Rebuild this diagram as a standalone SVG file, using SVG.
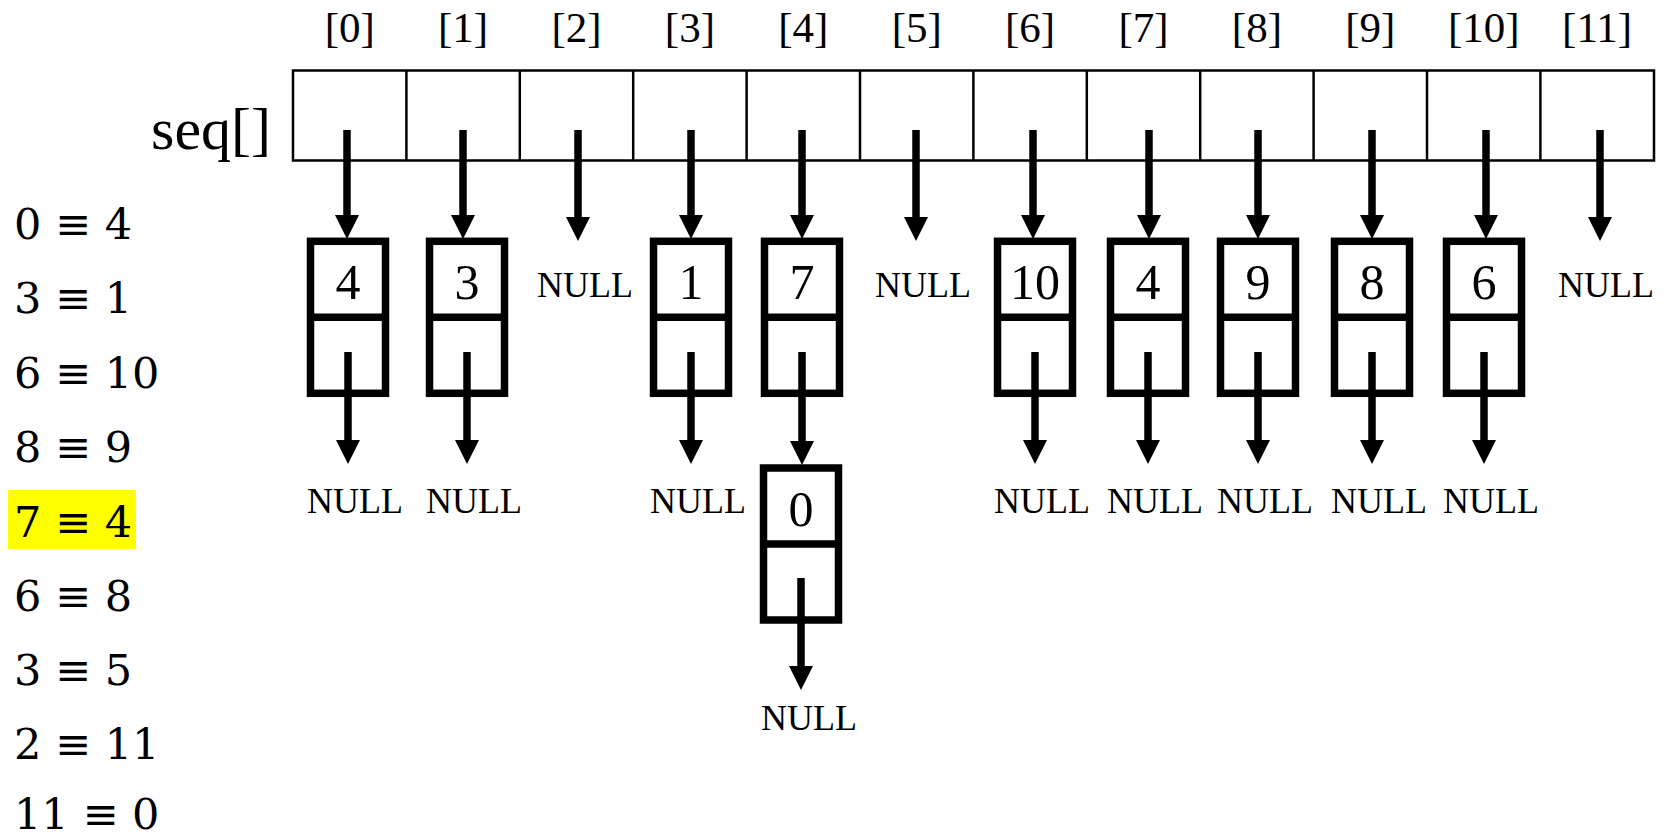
<svg xmlns="http://www.w3.org/2000/svg" width="1669" height="838" viewBox="0 0 1669 838">
<style>
.idx{font-family:"Liberation Serif","Times New Roman",serif;font-size:43px;text-anchor:middle;fill:#000}
.val{font-family:"Liberation Serif","Times New Roman",serif;font-size:50px;text-anchor:middle;fill:#000}
.null{font-family:"Liberation Serif","Times New Roman",serif;font-size:36px;text-anchor:middle;fill:#000}
.eq{font-family:"DejaVu Serif",serif;font-size:43px;fill:#000}
.cell{fill:#fff;stroke:#000;stroke-width:2.5}
.box{fill:#fff;stroke:#000;stroke-width:7.5}
.arr{stroke:#000;stroke-width:7.5;fill:none;marker-end:url(#ah)}
</style>
<defs>
<marker id="ah" markerUnits="userSpaceOnUse" markerWidth="24" markerHeight="24" refX="2" refY="12" orient="auto">
<path d="M0,0 L24,12 L0,24 z" fill="#000"/>
</marker>
<g id="nodebox">
<rect class="box" x="-37.5" y="0" width="75" height="152"/>
<line x1="-37.5" y1="76" x2="37.5" y2="76" stroke="#000" stroke-width="7.5"/>
</g>
</defs>
<rect width="1669" height="838" fill="#fff"/>

<g id="equations">
<rect x="8" y="490" width="128" height="59" fill="#ffff00"/>
<text class="eq" x="14" y="239">0 ≡ 4</text>
<text class="eq" x="14" y="313">3 ≡ 1</text>
<text class="eq" x="14" y="388">6 ≡ 10</text>
<text class="eq" x="14" y="462">8 ≡ 9</text>
<text class="eq" x="14" y="537">7 ≡ 4</text>
<text class="eq" x="14" y="611">6 ≡ 8</text>
<text class="eq" x="14" y="685">3 ≡ 5</text>
<text class="eq" x="14" y="759">2 ≡ 11</text>
<text class="eq" x="14" y="829">11 ≡ 0</text>
</g>

<g id="seq">
<text x="271" y="149" font-family="Liberation Serif, Times New Roman, serif" font-size="60" text-anchor="end">seq[]</text>
<rect class="cell" x="293" y="70.5" width="1361" height="90"/>
<g stroke="#000" stroke-width="2.5">
<line x1="406.4" y1="70.5" x2="406.4" y2="160.5"/>
<line x1="519.8" y1="70.5" x2="519.8" y2="160.5"/>
<line x1="633.2" y1="70.5" x2="633.2" y2="160.5"/>
<line x1="746.6" y1="70.5" x2="746.6" y2="160.5"/>
<line x1="860" y1="70.5" x2="860" y2="160.5"/>
<line x1="973.4" y1="70.5" x2="973.4" y2="160.5"/>
<line x1="1086.8" y1="70.5" x2="1086.8" y2="160.5"/>
<line x1="1200.2" y1="70.5" x2="1200.2" y2="160.5"/>
<line x1="1313.6" y1="70.5" x2="1313.6" y2="160.5"/>
<line x1="1427" y1="70.5" x2="1427" y2="160.5"/>
<line x1="1540.4" y1="70.5" x2="1540.4" y2="160.5"/>
</g>
<text class="idx" x="349.7" y="42">[0]</text>
<text class="idx" x="463.1" y="42">[1]</text>
<text class="idx" x="576.5" y="42">[2]</text>
<text class="idx" x="689.9" y="42">[3]</text>
<text class="idx" x="803.3" y="42">[4]</text>
<text class="idx" x="916.7" y="42">[5]</text>
<text class="idx" x="1030.1" y="42">[6]</text>
<text class="idx" x="1143.5" y="42">[7]</text>
<text class="idx" x="1256.9" y="42">[8]</text>
<text class="idx" x="1370.3" y="42">[9]</text>
<text class="idx" x="1483.7" y="42">[10]</text>
<text class="idx" x="1597.1" y="42">[11]</text>
</g>

<g id="node-0"><use href="#nodebox" x="348" y="241.3"/><text class="val" x="348" y="299">4</text></g>
<g id="node-1"><use href="#nodebox" x="467" y="241.3"/><text class="val" x="467" y="299">3</text></g>
<g id="node-3"><use href="#nodebox" x="691" y="241.3"/><text class="val" x="691" y="299">1</text></g>
<g id="node-4"><use href="#nodebox" x="802" y="241.3"/><text class="val" x="802" y="299">7</text></g>
<g id="node-4b"><use href="#nodebox" x="801" y="468"/><text class="val" x="801" y="526">0</text></g>
<g id="node-6"><use href="#nodebox" x="1035" y="241.3"/><text class="val" x="1035" y="299">10</text></g>
<g id="node-7"><use href="#nodebox" x="1148" y="241.3"/><text class="val" x="1148" y="299">4</text></g>
<g id="node-8"><use href="#nodebox" x="1258" y="241.3"/><text class="val" x="1258" y="299">9</text></g>
<g id="node-9"><use href="#nodebox" x="1372" y="241.3"/><text class="val" x="1372" y="299">8</text></g>
<g id="node-10"><use href="#nodebox" x="1484" y="241.3"/><text class="val" x="1484" y="299">6</text></g>

<g id="nulls">
<text class="null" x="585" y="297">NULL</text>
<text class="null" x="923" y="297">NULL</text>
<text class="null" x="1606" y="297">NULL</text>
<text class="null" x="355" y="513">NULL</text>
<text class="null" x="474" y="513">NULL</text>
<text class="null" x="698" y="513">NULL</text>
<text class="null" x="1042" y="513">NULL</text>
<text class="null" x="1155" y="513">NULL</text>
<text class="null" x="1265" y="513">NULL</text>
<text class="null" x="1379" y="513">NULL</text>
<text class="null" x="1491" y="513">NULL</text>
<text class="null" x="809" y="730">NULL</text>
</g>

<g id="connectors">
<line class="arr" x1="347" y1="130" x2="347" y2="217"/>
<line class="arr" x1="463" y1="130" x2="463" y2="217"/>
<line class="arr" x1="578" y1="130" x2="578" y2="219"/>
<line class="arr" x1="691" y1="130" x2="691" y2="217"/>
<line class="arr" x1="802" y1="130" x2="802" y2="217"/>
<line class="arr" x1="916" y1="130" x2="916" y2="219"/>
<line class="arr" x1="1033" y1="130" x2="1033" y2="217"/>
<line class="arr" x1="1149" y1="130" x2="1149" y2="217"/>
<line class="arr" x1="1258" y1="130" x2="1258" y2="217"/>
<line class="arr" x1="1372" y1="130" x2="1372" y2="217"/>
<line class="arr" x1="1486" y1="130" x2="1486" y2="217"/>
<line class="arr" x1="1600" y1="130" x2="1600" y2="219"/>
<line class="arr" x1="348" y1="352" x2="348" y2="442"/>
<line class="arr" x1="467" y1="352" x2="467" y2="442"/>
<line class="arr" x1="691" y1="352" x2="691" y2="442"/>
<line class="arr" x1="802" y1="352" x2="802" y2="443"/>
<line class="arr" x1="1035" y1="352" x2="1035" y2="442"/>
<line class="arr" x1="1148" y1="352" x2="1148" y2="442"/>
<line class="arr" x1="1258" y1="352" x2="1258" y2="442"/>
<line class="arr" x1="1372" y1="352" x2="1372" y2="442"/>
<line class="arr" x1="1484" y1="352" x2="1484" y2="442"/>
<line class="arr" x1="801" y1="578" x2="801" y2="668"/>
</g>
</svg>
